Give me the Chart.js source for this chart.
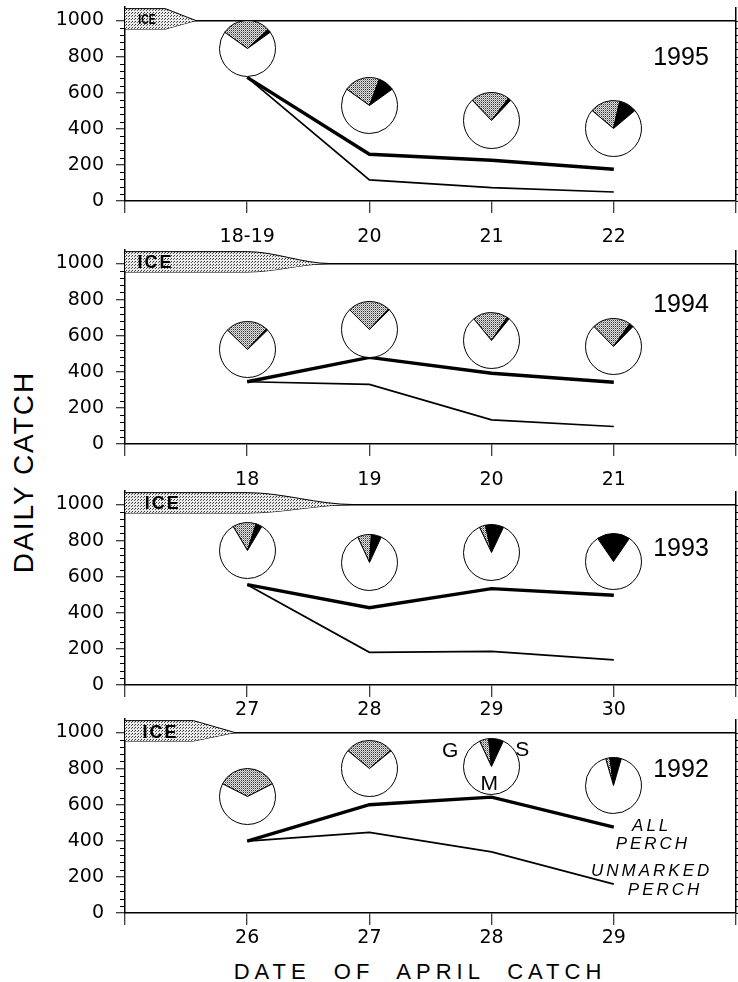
<!DOCTYPE html>
<html lang="en">
<head>
<meta charset="UTF-8">
<title>Daily perch catch, April 1992-1995</title>
<script src="https://cdn.jsdelivr.net/npm/chart.js"></script>
<style>
  body { margin: 0; width: 738px; height: 982px; position: relative; overflow: hidden; background: #fff;
         font-family: "Liberation Sans", Arial, sans-serif; color: #000; }
  .panel { position: absolute; left: 0; width: 738px; }
  .pie { position: absolute; z-index: 1; }
  .note { position: absolute; z-index: 2; transform: translate(-50%, -50%); white-space: nowrap; line-height: 1; }
  .year { font-size: 25px; }
  .ice { font-weight: bold; font-size: 18px; letter-spacing: 2px; }
  .ice.small { font-size: 14px; letter-spacing: 0; transform: translate(-50%, -50%) scaleX(0.75); }
  .gsm { font-size: 21px; }
  .lab { font-style: italic; font-size: 17px; letter-spacing: 3px; }
  #ylab { position: absolute; left: 24px; top: 472px; transform: translate(-50%, -50%) rotate(-90deg);
          font-size: 28px; letter-spacing: 2px; white-space: nowrap; }
  #xlab { position: absolute; left: 420px; top: 972px; transform: translate(-50%, -50%);
          font-size: 22px; letter-spacing: 5px; word-spacing: 12px; white-space: nowrap; }
</style>
</head>
<body>
<div id="ylab">DAILY CATCH</div>
<div id="xlab">DATE OF APRIL CATCH</div>

<script>
// values (catch per day; pie fractions G = grey, S = black, M = white rest)
const days1995 = ['18-19', '20', '21', '22'];
const all1995 = [685, 259, 226, 176];
const unmarked1995 = [685, 117, 74, 50];
const g1995 = [0.283, 0.208, 0.225, 0.175];
const s1995 = [0.02, 0.094, 0.017, 0.103];
const pieAt1995 = [844, 528, 444, 404];
const ice1995 = [0.33, 0.58];

const days1994 = ['18', '19', '20', '21'];
const all1994 = [345, 480, 392, 342];
const unmarked1994 = [345, 330, 134, 97];
const g1994 = [0.245, 0.245, 0.204, 0.222];
const s1994 = [0.01, 0.006, 0.014, 0.025];
const pieAt1994 = [526, 633, 572, 542];
const ice1994 = [1.0, 1.68];

const days1993 = ['27', '28', '29', '30'];
const all1993 = [556, 428, 534, 497];
const unmarked1993 = [556, 181, 186, 139];
const g1993 = [0.135, 0.08, 0.036, 0.006];
const s1993 = [0.036, 0.058, 0.105, 0.186];
const pieAt1993 = [745, 680, 735, 685];
const ice1993 = [1.0, 1.87];

const days1992 = ['26', '27', '28', '29'];
const all1992 = [398, 600, 642, 476];
const unmarked1992 = [398, 447, 339, 160];
const g1992 = [0.35, 0.278, 0.053, 0.025];
const s1992 = [0, 0.003, 0.086, 0.065];
const pieAt1992 = [644, 802, 811, 709];
const ice1992 = [0.56, 0.9];

const ICE_HI = 1066, ICE_LO = 953;
const Y_TOP = 1075;          // room above 1000 for the ice bar
const PANEL_H = 246, PAD_TOP = 4, X_AXIS_H = 48, Y_AXIS_W = 125, PIE = 57;
const TICK_FONT = { family: '"DejaVu Sans", sans-serif', size: 19 };

function stipple(size, bg, dots) {
    const c = document.createElement('canvas');
    c.width = size; c.height = size;
    const x = c.getContext('2d');
    x.fillStyle = bg; x.fillRect(0, 0, size, size);
    dots.forEach(d => { x.fillStyle = d[2]; x.fillRect(d[0], d[1], 1, 1); });
    return x.createPattern(c, 'repeat');
}
const pieGrey = stipple(2, '#e0e0e0', [[0, 0, '#333'], [1, 1, '#999']]);
const iceGrey = stipple(3, '#ebebeb', [[0, 0, '#333'], [2, 1, '#555']]);

const panels = [
    { top: 3, labelPad: 13, days: days1995, all: all1995, unmarked: unmarked1995, g: g1995, s: s1995, pieAt: pieAt1995, ice: ice1995, curved: false,
      notes: [{ t: '1995', x: 4.55, y: 805, c: 'year' }, { t: 'ICE', x: 0.18, y: 1010, c: 'ice small' }] },
    { top: 246, labelPad: 13, days: days1994, all: all1994, unmarked: unmarked1994, g: g1994, s: s1994, pieAt: pieAt1994, ice: ice1994, curved: true,
      notes: [{ t: '1994', x: 4.55, y: 780, c: 'year' }, { t: 'ICE', x: 0.25, y: 1008, c: 'ice' }] },
    { top: 487, labelPad: 2, days: days1993, all: all1993, unmarked: unmarked1993, g: g1993, s: s1993, pieAt: pieAt1993, ice: ice1993, curved: true,
      notes: [{ t: '1993', x: 4.55, y: 764, c: 'year' }, { t: 'ICE', x: 0.31, y: 1008, c: 'ice' }] },
    { top: 715, labelPad: 2, days: days1992, all: all1992, unmarked: unmarked1992, g: g1992, s: s1992, pieAt: pieAt1992, ice: ice1992, curved: false,
      notes: [{ t: '1992', x: 4.55, y: 804, c: 'year' }, { t: 'ICE', x: 0.29, y: 1003, c: 'ice' },
              { t: 'G', x: 2.66, y: 909, c: 'gsm' }, { t: 'S', x: 3.25, y: 912, c: 'gsm' }, { t: 'M', x: 2.98, y: 726, c: 'gsm' },
              { t: 'ALL', x: 4.31, y: 487, c: 'lab' }, { t: 'PERCH', x: 4.32, y: 388, c: 'lab' },
              { t: 'UNMARKED', x: 4.31, y: 237, c: 'lab' }, { t: 'PERCH', x: 4.42, y: 132, c: 'lab' }] }
];

// short minor ticks every 40 on both vertical axes
const minorTicks = {
    id: 'minorTicks',
    afterDraw(chart) {
        const { ctx, chartArea: a, scales: { y } } = chart;
        ctx.save();
        ctx.strokeStyle = '#000';
        ctx.lineWidth = 1;
        for (let v = 0; v <= 1000; v += 40) {
            const py = Math.round(y.getPixelForValue(v)) + 0.5;
            const len = v % 200 === 0 ? 0 : 5;
            ctx.beginPath();
            if (len) { ctx.moveTo(a.left - len, py); ctx.lineTo(a.left, py); }
            ctx.moveTo(a.right, py); ctx.lineTo(a.right + 6, py);
            ctx.stroke();
        }
        ctx.restore();
    }
};

function makePanel(p) {
    const wrap = document.createElement('div');
    wrap.className = 'panel';
    wrap.style.top = p.top + 'px';
    wrap.style.height = PANEL_H + 'px';
    const cv = document.createElement('canvas');
    wrap.appendChild(cv);
    document.body.appendChild(wrap);

    const pts = vals => vals.map((v, i) => ({ x: i + 1, y: v }));
    const iceEdge = lvl => [{ x: 0, y: lvl }, { x: p.ice[0], y: lvl }, { x: p.ice[1], y: 1000 }, { x: 5, y: 1000 }];
    const iceStyle = { borderColor: '#000', borderWidth: 1, pointRadius: 0, cubicInterpolationMode: p.curved ? 'monotone' : 'default' };

    const chart = new Chart(cv, {
        type: 'line',
        data: {
            datasets: [
                { ...iceStyle, data: iceEdge(ICE_HI), fill: '+1', backgroundColor: iceGrey },
                { ...iceStyle, data: iceEdge(ICE_LO), fill: false },
                { data: pts(p.all), borderColor: '#000', borderWidth: 3.4, pointRadius: 0, fill: false },
                { data: pts(p.unmarked), borderColor: '#000', borderWidth: 1.7, pointRadius: 0, fill: false }
            ]
        },
        options: {
            responsive: true,
            maintainAspectRatio: false,
            animation: false,
            events: [],
            layout: { padding: { top: PAD_TOP, right: 2, left: 0, bottom: 0 } },
            plugins: { legend: { display: false }, tooltip: { enabled: false } },
            scales: {
                x: {
                    type: 'linear', min: 0, max: 5,
                    afterFit: s => { s.height = X_AXIS_H; s.paddingLeft = 0; s.paddingRight = 0; },
                    ticks: { stepSize: 1, autoSkip: false, maxRotation: 0, padding: p.labelPad, color: '#000',
                             font: TICK_FONT, callback: v => p.days[v - 1] || '' },
                    grid: { color: c => (c.tick && c.tick.value === 5 ? '#000' : 'rgba(0,0,0,0)'), lineWidth: 1.5,
                            tickColor: '#000', tickWidth: 1, tickLength: 12 },
                    border: { color: '#000', width: 1.5 }
                },
                y: {
                    min: 0, max: Y_TOP,
                    afterFit: s => { s.width = Y_AXIS_W; s.paddingTop = 0; s.paddingBottom = 0; },
                    ticks: { stepSize: 200, includeBounds: false, padding: 12, color: '#000',
                             font: TICK_FONT, callback: v => (v <= 1000 ? v : '') },
                    grid: { color: c => (c.tick && c.tick.value === 1000 ? '#000' : 'rgba(0,0,0,0)'), lineWidth: 1.5,
                            tickColor: c => (c.tick && c.tick.value <= 1000 ? '#000' : 'rgba(0,0,0,0)'), tickWidth: 1, tickLength: 9 },
                    border: { color: '#000', width: 1.5 }
                }
            }
        },
        plugins: [minorTicks]
    });

    const { x, y } = chart.scales;

    // composition pies, centred on each day
    p.g.forEach((g, i) => {
        const s = p.s[i];
        const c = document.createElement('canvas');
        c.width = PIE; c.height = PIE;
        c.className = 'pie';
        c.style.left = (x.getPixelForValue(i + 1) - PIE / 2) + 'px';
        c.style.top = (y.getPixelForValue(p.pieAt[i]) - PIE / 2) + 'px';
        wrap.appendChild(c);
        new Chart(c, {
            type: 'pie',
            data: { datasets: [{ data: [g, s, 1 - g - s], backgroundColor: [pieGrey, '#000', '#fff'],
                                 borderColor: '#000', borderWidth: 1 }] },
            options: { responsive: false, animation: false, events: [], rotation: -(g + s) * 180,
                       plugins: { legend: { display: false }, tooltip: { enabled: false } } }
        });
    });

    // text labels placed on the panel's own scales
    p.notes.forEach(n => {
        const d = document.createElement('div');
        d.className = 'note ' + n.c;
        d.textContent = n.t;
        d.style.left = x.getPixelForValue(n.x) + 'px';
        d.style.top = y.getPixelForValue(n.y) + 'px';
        wrap.appendChild(d);
    });
}

panels.forEach(makePanel);
</script>
</body>
</html>
